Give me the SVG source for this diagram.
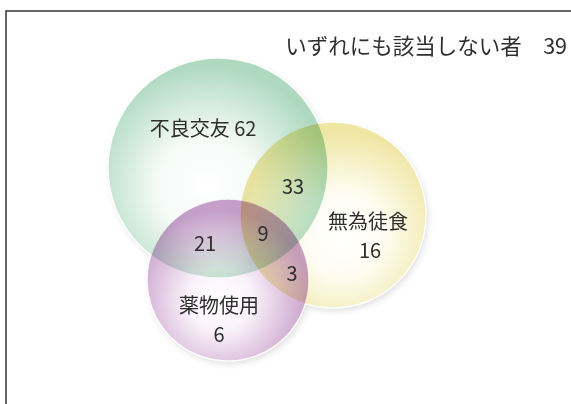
<svg xmlns="http://www.w3.org/2000/svg" width="571" height="404" viewBox="0 0 571 404">
<defs>
<radialGradient id="gG" cx="0.45" cy="0.58" r="0.55">
<stop offset="0" stop-color="#ffffff"/><stop offset="0.4" stop-color="#f6fbf8"/><stop offset="1" stop-color="#aed9bf"/>
</radialGradient>
<radialGradient id="gY" cx="0.55" cy="0.6" r="0.55">
<stop offset="0" stop-color="#ffffff"/><stop offset="0.4" stop-color="#fffdf2"/><stop offset="1" stop-color="#efe6a3"/>
</radialGradient>
<radialGradient id="gP" cx="0.45" cy="0.62" r="0.55">
<stop offset="0" stop-color="#ffffff"/><stop offset="0.35" stop-color="#faf3fa"/><stop offset="1" stop-color="#c9a0cc"/>
</radialGradient>
<filter id="sh" x="-20%" y="-20%" width="140%" height="140%">
<feDropShadow dx="2" dy="3" stdDeviation="3" flood-color="#000" flood-opacity="0.12"/>
</filter>
<style>
.c{mix-blend-mode:multiply;stroke:#ffffff;stroke-width:1.5;stroke-opacity:0.9}
.t{font-family:"Noto Sans CJK JP","Noto Sans",sans-serif;font-size:20px;fill:#2e2e2e;text-anchor:middle}
</style>
</defs>
<rect x="0" y="0" width="571" height="404" fill="#ffffff"/>
<rect x="6" y="11" width="620" height="460" fill="none" stroke="#333333" stroke-width="1.5"/>
<text class="t" x="567" y="54" style="text-anchor:end;font-size:21.5px">いずれにも該当しない者　39</text>
<g id="shadows" filter="url(#sh)">
<circle cx="218" cy="168" r="110" fill="#ffffff"/>
<circle cx="333" cy="215" r="93" fill="#ffffff"/>
<circle cx="228" cy="280" r="81" fill="#ffffff"/>
</g>
<g id="circles" style="isolation:isolate">
<g id="purple"><circle class="c" cx="228" cy="280" r="81" fill="url(#gP)"/></g>
<g id="green"><circle class="c" cx="218" cy="168" r="110" fill="url(#gG)"/></g>
<g id="yellow"><circle class="c" cx="333" cy="215" r="93" fill="url(#gY)"/></g>
</g>
<g id="labels">
<text class="t" x="203" y="136">不良交友 62</text>
<text class="t" x="293" y="194">33</text>
<text class="t" x="263" y="241">9</text>
<text class="t" x="205" y="251">21</text>
<text class="t" x="292" y="281">3</text>
<text class="t" x="368" y="229">無為徒食</text>
<text class="t" x="370" y="258">16</text>
<text class="t" x="219" y="313">薬物使用</text>
<text class="t" x="219" y="342">6</text>
</g>
</svg>
